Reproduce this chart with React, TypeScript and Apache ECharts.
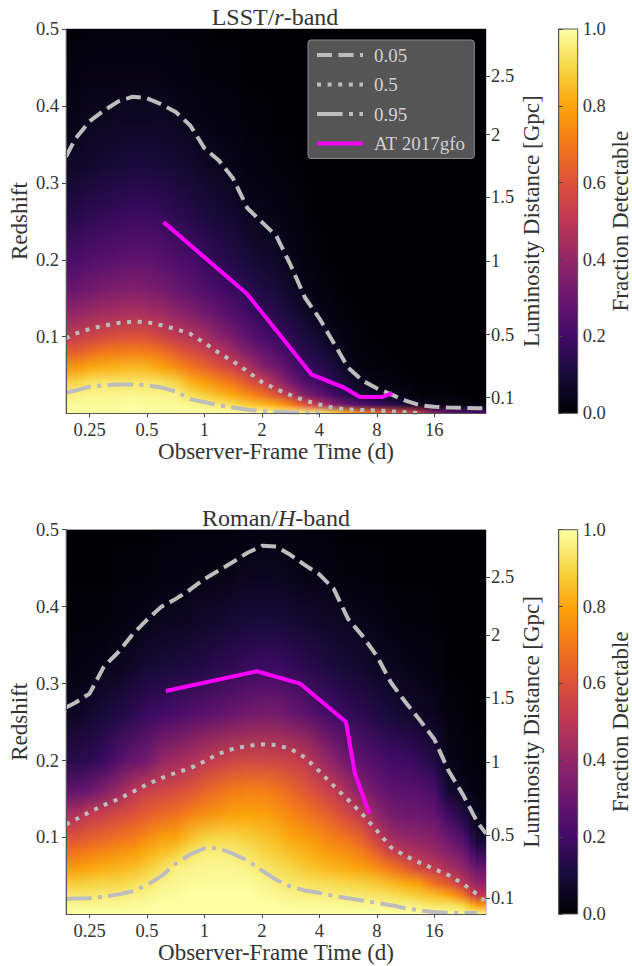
import React, { useEffect, useRef } from "react";
import * as echarts from "echarts";

const FONT = "Liberation Serif";
const TIME_TICKS = [0.25, 0.5, 1, 2, 4, 8, 16];
const Z_TICKS = [0.1, 0.2, 0.3, 0.4, 0.5];
const DIST_TICK_Z = [0.0208, 0.1028, 0.198, 0.2817, 0.3628, 0.4385];
const DIST_TICK_LABELS = ["0.1", "0.5", "1", "1.5", "2", "2.5"];
const CBAR_TICKS = [0, 0.2, 0.4, 0.6, 0.8, 1];
const INFERNO = ["#000004", "#160b39", "#420a68", "#6a176e", "#932667", "#bc3754", "#dd513a", "#f37819", "#fca50a", "#f6d746", "#fcffa4"];

// heat map columns (days) and rows (redshift)
const COL_T = [0.21, 0.25, 0.297, 0.354, 0.42, 0.5, 0.595, 0.707, 0.84, 1, 1.19, 1.41, 1.68, 2, 2.38, 2.83, 3.36, 4, 4.76, 5.66, 6.73, 8, 9.51, 11.3, 13.5, 16, 19, 22.6, 26.9];
const ROW_Z = [0.5, 0.44, 0.38, 0.32, 0.26, 0.2, 0.16, 0.13, 0.1, 0.08, 0.06, 0.04, 0.025, 0.012, 0.001];

// percent detectable; one list per column, top row first
const LSST_GRID = [
  [1, 2, 4, 7, 13, 22, 30, 40, 52, 63, 77, 90, 96, 99, 100],
  [1, 3, 5, 8, 15, 24, 32, 42, 55, 67, 81, 93, 97, 99, 100],
  [1, 3, 5, 9, 16, 25, 34, 44, 57, 70, 82, 94, 97, 99, 100],
  [1, 3, 6, 10, 17, 26, 35, 45, 59, 71, 83, 94, 97, 99, 100],
  [1, 3, 6, 11, 18, 27, 36, 46, 60, 72, 84, 94, 98, 100, 100],
  [1, 3, 6, 11, 18, 27, 35, 45, 59, 71, 83, 94, 97, 99, 100],
  [1, 3, 6, 10, 17, 25, 33, 43, 55, 68, 80, 93, 97, 99, 100],
  [1, 2, 5, 9, 15, 23, 30, 39, 52, 63, 75, 90, 97, 99, 100],
  [1, 2, 4, 8, 13, 21, 27, 36, 48, 59, 70, 83, 92, 98, 100],
  [1, 1, 3, 6, 11, 18, 24, 32, 45, 54, 65, 79, 88, 96, 100],
  [0, 1, 2, 5, 9, 15, 21, 28, 38, 49, 60, 74, 84, 94, 100],
  [0, 1, 2, 4, 8, 13, 18, 24, 33, 43, 55, 69, 80, 91, 100],
  [0, 0, 1, 2, 5, 10, 15, 20, 27, 35, 47, 62, 74, 87, 99],
  [0, 0, 1, 2, 4, 8, 12, 16, 22, 29, 37, 55, 68, 84, 99],
  [0, 0, 0, 1, 3, 7, 10, 14, 19, 24, 31, 44, 60, 80, 98],
  [0, 0, 0, 1, 2, 4, 7, 10, 15, 19, 24, 33, 48, 72, 97],
  [0, 0, 0, 0, 1, 2, 4, 7, 11, 14, 18, 24, 35, 60, 96],
  [0, 0, 0, 0, 0, 1, 2, 4, 8, 11, 15, 20, 27, 50, 95],
  [0, 0, 0, 0, 0, 0, 1, 2, 4, 7, 10, 15, 20, 36, 90],
  [0, 0, 0, 0, 0, 0, 0, 1, 2, 3, 5, 9, 14, 28, 80],
  [0, 0, 0, 0, 0, 0, 0, 0, 1, 1, 2, 5, 9, 22, 72],
  [0, 0, 0, 0, 0, 0, 0, 0, 0, 1, 1, 3, 7, 18, 68],
  [0, 0, 0, 0, 0, 0, 0, 0, 0, 0, 1, 2, 5, 14, 62],
  [0, 0, 0, 0, 0, 0, 0, 0, 0, 0, 0, 1, 3, 10, 58],
  [0, 0, 0, 0, 0, 0, 0, 0, 0, 0, 0, 0, 1, 5, 52],
  [0, 0, 0, 0, 0, 0, 0, 0, 0, 0, 0, 0, 1, 4, 35],
  [0, 0, 0, 0, 0, 0, 0, 0, 0, 0, 0, 0, 1, 3, 28],
  [0, 0, 0, 0, 0, 0, 0, 0, 0, 0, 0, 0, 0, 3, 24],
  [0, 0, 0, 0, 0, 0, 0, 0, 0, 0, 0, 0, 0, 2, 20],
];
const ROMAN_GRID = [
  [0, 0, 1, 2, 6, 14, 28, 46, 60, 69, 78, 88, 94, 98, 100],
  [0, 0, 1, 3, 8, 15, 30, 52, 63, 72, 80, 89, 94, 98, 100],
  [0, 0, 1, 4, 10, 18, 36, 54, 65, 74, 82, 90, 95, 98, 100],
  [0, 1, 2, 5, 12, 24, 42, 57, 68, 76, 83, 90, 95, 98, 100],
  [0, 1, 3, 7, 15, 29, 49, 60, 70, 78, 85, 92, 96, 99, 100],
  [0, 1, 4, 9, 18, 32, 54, 63, 74, 82, 88, 94, 97, 99, 100],
  [1, 2, 5, 10, 20, 40, 56, 66, 78, 85, 92, 97, 99, 100, 100],
  [1, 2, 5, 11, 22, 43, 58, 68, 80, 88, 96, 98, 99, 100, 100],
  [1, 3, 6, 12, 24, 46, 61, 72, 85, 93, 97, 99, 100, 100, 100],
  [1, 3, 7, 13, 26, 50, 65, 75, 89, 96, 98, 99, 100, 100, 100],
  [1, 3, 8, 15, 28, 53, 68, 77, 90, 96, 98, 99, 100, 100, 100],
  [1, 4, 9, 16, 30, 55, 71, 79, 90, 95, 98, 99, 100, 100, 100],
  [2, 5, 10, 18, 32, 56, 72, 80, 88, 93, 97, 99, 100, 100, 100],
  [2, 5, 10, 19, 33, 56, 72, 79, 86, 90, 94, 98, 99, 100, 100],
  [2, 5, 10, 19, 33, 55, 70, 77, 84, 88, 92, 96, 98, 100, 100],
  [2, 4, 9, 17, 30, 54, 66, 73, 80, 85, 90, 94, 97, 99, 100],
  [1, 3, 8, 15, 27, 51, 62, 70, 78, 83, 87, 93, 96, 99, 100],
  [1, 3, 7, 13, 23, 44, 57, 66, 75, 80, 85, 92, 96, 99, 100],
  [1, 2, 6, 11, 20, 37, 52, 62, 71, 77, 83, 91, 95, 99, 100],
  [0, 1, 5, 9, 17, 31, 44, 56, 68, 75, 81, 90, 95, 98, 100],
  [0, 1, 4, 8, 15, 26, 36, 50, 63, 71, 79, 89, 94, 98, 100],
  [0, 1, 3, 6, 12, 23, 31, 39, 53, 64, 75, 87, 93, 98, 100],
  [0, 0, 2, 5, 10, 20, 27, 33, 43, 55, 70, 84, 92, 97, 100],
  [0, 0, 1, 4, 8, 19, 26, 31, 40, 49, 64, 81, 90, 97, 100],
  [0, 0, 1, 3, 6, 16, 25, 30, 38, 45, 56, 78, 87, 95, 100],
  [0, 0, 1, 2, 5, 12, 22, 28, 36, 42, 51, 68, 85, 93, 100],
  [0, 0, 0, 0, 2, 4, 8, 19, 30, 37, 46, 62, 80, 93, 99],
  [0, 0, 0, 0, 1, 2, 5, 12, 23, 31, 40, 50, 70, 90, 98],
  [0, 0, 0, 0, 0, 1, 2, 4, 8, 17, 29, 40, 50, 78, 96],
];

// contours: redshift read at these times
const CONTOUR_T = [0.188, 0.21, 0.25, 0.297, 0.354, 0.42, 0.5, 0.595, 0.707, 0.84, 1, 1.19, 1.41, 1.68, 2, 2.38, 2.83, 3.36, 4, 4.76, 5.66, 6.73, 8, 9.51, 11.3, 13.5, 16, 19, 22.6, 26.9, 29.9];
const LSST_05 = [0.334, 0.357, 0.38, 0.394, 0.406, 0.412, 0.41, 0.402, 0.392, 0.375, 0.345, 0.329, 0.306, 0.267, 0.249, 0.231, 0.193, 0.151, 0.124, 0.092, 0.06, 0.043, 0.033, 0.025, 0.017, 0.011, 0.009, 0.008, 0.0075, 0.007, 0.007];
const LSST_50 = [0.098, 0.104, 0.11, 0.1145, 0.118, 0.1196, 0.119, 0.115, 0.11, 0.104, 0.092, 0.079, 0.068, 0.055, 0.041, 0.032, 0.024, 0.017, 0.012, 0.0075, 0.0055, 0.0048, 0.004, 0.003, 0.002, 0.0008];
const LSST_95 = [0.027, 0.03, 0.035, 0.037, 0.038, 0.038, 0.037, 0.034, 0.029, 0.019, 0.015, 0.011, 0.008, 0.005, 0.0035, 0.0025, 0.0017, 0.0012, 0.0008];
const ROMAN_05 = [0.269, 0.275, 0.287, 0.322, 0.341, 0.364, 0.383, 0.4, 0.41, 0.422, 0.436, 0.447, 0.458, 0.47, 0.479, 0.478, 0.467, 0.454, 0.442, 0.423, 0.384, 0.362, 0.336, 0.301, 0.276, 0.252, 0.228, 0.187, 0.156, 0.12, 0.105];
const ROMAN_50 = [0.117, 0.123, 0.133, 0.142, 0.15, 0.159, 0.169, 0.177, 0.184, 0.19, 0.199, 0.209, 0.215, 0.219, 0.221, 0.22, 0.215, 0.204, 0.186, 0.167, 0.149, 0.13, 0.109, 0.087, 0.076, 0.067, 0.059, 0.051, 0.04, 0.026, 0.016];
const ROMAN_95 = [0.02, 0.0205, 0.021, 0.023, 0.026, 0.03, 0.038, 0.05, 0.066, 0.078, 0.086, 0.086, 0.079, 0.07, 0.057, 0.045, 0.036, 0.031, 0.028, 0.024, 0.021, 0.018, 0.015, 0.012, 0.008, 0.005, 0.003, 0.002, 0.0018, 0.0017];

const LSST_KN_T = [0.61, 1.667, 3.65, 5.32, 6.53, 8.49, 9.65];
const LSST_KN_Z = [0.249, 0.156, 0.0507, 0.0346, 0.0216, 0.0216, 0.0268];
const ROMAN_KN_T = [0.628, 1.88, 3.17, 5.52, 6.15, 7.31];
const ROMAN_KN_Z = [0.2904, 0.316, 0.3, 0.25, 0.183, 0.131];

const X_MIN = 0.188;
const X_MAX = 29.9;
const Z_MIN = 0.0005;
const Z_MAX = 0.5;
const STRIPS = 5;

const hex = (s: string) => [1, 3, 5].map((i) => parseInt(s.slice(i, i + 2), 16));
function inferno(f: number) {
  const p = Math.min(Math.max(f, 0), 1) * 10;
  const i = Math.min(Math.floor(p), 9);
  const a = hex(INFERNO[i]);
  const b = hex(INFERNO[i + 1]);
  const c = a.map((v, k) => Math.round(v + (b[k] - v) * (p - i)));
  return `rgb(${c[0]},${c[1]},${c[2]})`;
}
const zip = (xs: number[], ys: number[]) => ys.map((y, i) => [xs[i], y]);

function heatSeries(grid: number[][], xi: number, yi: number) {
  // Pixel shading only, as in an interpolated image: each read column is painted
  // as strips whose colour eases toward its neighbours. No data values are added.
  const shade = (lt: number, r: number) => {
    const L = COL_T.map(Math.log);
    if (lt <= L[0]) return grid[0][r];
    if (lt >= L[L.length - 1]) return grid[L.length - 1][r];
    let i = 0;
    while (lt > L[i + 1]) i++;
    const w = (lt - L[i]) / (L[i + 1] - L[i]);
    return grid[i][r] * (1 - w) + grid[i + 1][r] * w;
  };
  return {
    type: "custom",
    xAxisIndex: xi,
    yAxisIndex: yi,
    z: 2,
    silent: true,
    clip: true,
    encode: { x: 0, y: 1 },
    data: COL_T.map((t, i) => [t, 0.25, i]),
    renderItem: (_p: any, api: any) => {
      const i = api.value(2);
      const tl = i === 0 ? X_MIN : Math.sqrt(COL_T[i - 1] * COL_T[i]);
      const tr = i === COL_T.length - 1 ? X_MAX : Math.sqrt(COL_T[i] * COL_T[i + 1]);
      const children: any[] = [];
      const n = i === 0 || i === COL_T.length - 1 ? 3 : STRIPS;
      for (let s = 0; s < n; s++) {
        const l0 = Math.log(tl) + ((Math.log(tr) - Math.log(tl)) * s) / n;
        const l1 = Math.log(tl) + ((Math.log(tr) - Math.log(tl)) * (s + 1)) / n;
        const a = api.coord([Math.exp(l0), Z_MAX]);
        const b = api.coord([Math.exp(l1), Z_MIN]);
        const mid = (l0 + l1) / 2;
        const stops = ROW_Z.map((z, r) => ({
          offset: (Z_MAX - z) / (Z_MAX - Z_MIN),
          color: inferno(shade(mid, r) / 100),
        }));
        children.push({
          type: "rect",
          shape: { x: a[0], y: a[1], width: b[0] - a[0] + 1, height: b[1] - a[1] },
          style: { fill: new echarts.graphic.LinearGradient(0, 0, 0, 1, stops) },
        });
      }
      return { type: "group", children };
    },
  };
}

const SILVER = "#bdbdbd";
function lineSeries(name: string, data: number[][], xi: number, yi: number, type: any, color = SILVER) {
  return {
    type: "line",
    name,
    xAxisIndex: xi,
    yAxisIndex: yi,
    data,
    z: 3,
    showSymbol: false,
    symbol: "none",
    silent: true,
    lineStyle: { color, width: 4, type, cap: "butt", join: "round" },
    itemStyle: { color },
  };
}
const DASH = [15, 6.5];
const DOT = [4, 6.6];
const DASHDOT = [25.6, 6.4, 4, 6.4];

function cbarSeries(xi: number, yi: number) {
  return {
    type: "custom",
    xAxisIndex: xi,
    yAxisIndex: yi,
    silent: true,
    z: 2,
    encode: { x: 0, y: 1 },
    data: [[0, 0]],
    renderItem: (_p: any, api: any) => {
      const a = api.coord([0, 1]);
      const b = api.coord([1, 0]);
      return {
        type: "rect",
        shape: { x: a[0], y: a[1], width: b[0] - a[0], height: b[1] - a[1] },
        style: {
          stroke: "#555",
          lineWidth: 1,
          fill: new echarts.graphic.LinearGradient(
            0, 0, 0, 1,
            INFERNO.map((c, i) => ({ offset: 1 - i / 10, color: c })).reverse()
          ),
        },
      };
    },
  };
}

const axisLine = { show: true, lineStyle: { color: "#555", width: 1 } };
const tick = { show: true, length: 4, lineStyle: { color: "#444", width: 1 } };
const lab = { color: "#333", fontFamily: FONT, fontSize: 18.5 };
const nameStyle = { color: "#333", fontFamily: FONT, fontSize: 23 };

export default function App() {
  const ref = useRef<HTMLDivElement>(null);
  useEffect(() => {
    const chart = echarts.init(ref.current!, undefined, { renderer: "svg" });
    const tops = [29, 529.7];
    const H = 384.3;
    const grids: any[] = [];
    const xAxes: any[] = [];
    const yAxes: any[] = [];
    tops.forEach((top, p) => {
      grids.push({ left: 66, top, width: 420, height: H, outerBoundsMode: "none", containLabel: false, show: true, borderColor: "#999", borderWidth: 1 });
      xAxes.push({
        type: "log", logBase: 2, gridIndex: p * 2, min: X_MIN, max: X_MAX, z: 5,
        name: "Observer-Frame Time (d)", nameLocation: "middle", nameGap: 27, nameMoveOverlap: false, nameTextStyle: nameStyle,
        axisLine, axisTick: { ...tick, customValues: TIME_TICKS }, minorTick: { show: false }, splitLine: { show: false },
        axisLabel: { ...lab, margin: 7, customValues: TIME_TICKS, formatter: (v: number) => String(+v.toFixed(2)), showMinLabel: true, showMaxLabel: true },
      });
      yAxes.push({
        type: "value", gridIndex: p * 2, min: Z_MIN, max: Z_MAX, position: "left", z: 5,
        name: "Redshift", nameLocation: "middle", nameGap: 35, nameMoveOverlap: false, nameTextStyle: nameStyle,
        axisLine, axisTick: { ...tick, customValues: Z_TICKS }, splitLine: { show: false },
        axisLabel: { ...lab, margin: 7, customValues: Z_TICKS, formatter: (v: number) => v.toFixed(1) },
      });
      yAxes.push({
        type: "value", gridIndex: p * 2, min: Z_MIN, max: Z_MAX, position: "right", z: 5,
        name: "Luminosity Distance [Gpc]", nameLocation: "middle", nameGap: 34, nameMoveOverlap: false, nameRotate: 90, nameTextStyle: nameStyle,
        axisLine: { show: false }, axisTick: { ...tick, customValues: DIST_TICK_Z }, splitLine: { show: false },
        axisLabel: {
          ...lab, margin: 5, customValues: DIST_TICK_Z,
          formatter: (v: number) => DIST_TICK_LABELS[DIST_TICK_Z.findIndex((d) => Math.abs(d - v) < 1e-6)],
        },
      });
      grids.push({ left: 558.7, top, width: 19, height: H, outerBoundsMode: "none", show: false });
      xAxes.push({ type: "value", gridIndex: p * 2 + 1, min: 0, max: 1, show: false });
      yAxes.push({
        type: "value", gridIndex: p * 2 + 1, min: 0, max: 1, interval: 0.2, position: "right", z: 5,
        name: "Fraction Detectable", nameLocation: "middle", nameGap: 31, nameMoveOverlap: false, nameRotate: 90, nameTextStyle: nameStyle,
        axisLine, axisTick: tick, splitLine: { show: false },
        axisLabel: { ...lab, margin: 5, customValues: CBAR_TICKS, formatter: (v: number) => v.toFixed(1) },
      });
    });
    const rich = {
      a: { fontFamily: FONT, fontSize: 24, color: "#333", fontWeight: "normal" },
      i: { fontFamily: FONT, fontSize: 24, color: "#333", fontStyle: "italic", fontWeight: "normal" },
    };
    chart.setOption({
      animation: false,
      backgroundColor: "#fff",
      title: [
        { text: "{a|LSST/}{i|r}{a|-band}", left: 270, top: 0, textAlign: "center", textStyle: { rich, fontWeight: "normal" } },
        { text: "{a|Roman/}{i|H}{a|-band}", left: 271, top: 501, textAlign: "center", textStyle: { rich, fontWeight: "normal" } },
      ],
      legend: {
        left: 308, top: 40, orient: "vertical", padding: [5, 9, 5, 7], itemWidth: 46, itemHeight: 14, itemGap: 9.5, z: 10,
        backgroundColor: "#555555", borderColor: "#8a8a8a", borderWidth: 1, borderRadius: 3,
        itemStyle: { opacity: 0, color: "transparent", borderWidth: 0 },
        lineStyle: { width: 4 },
        textStyle: { color: "#d2d2d2", fontFamily: FONT, fontSize: 19, lineHeight: 20, padding: [0, 0, 0, 6] },
        data: ["0.05", "0.5", "0.95", "AT 2017gfo"],
        selectedMode: false,
      },
      grid: grids,
      xAxis: xAxes,
      yAxis: yAxes,
      series: [
        heatSeries(LSST_GRID, 0, 0),
        lineSeries("0.05", zip(CONTOUR_T, LSST_05), 0, 0, DASH),
        lineSeries("0.5", zip(CONTOUR_T, LSST_50), 0, 0, DOT),
        lineSeries("0.95", zip(CONTOUR_T, LSST_95), 0, 0, DASHDOT),
        lineSeries("AT 2017gfo", zip(LSST_KN_T, LSST_KN_Z), 0, 0, "solid", "#ff00ff"),
        cbarSeries(1, 2),
        heatSeries(ROMAN_GRID, 2, 3),
        lineSeries("0.05", zip(CONTOUR_T, ROMAN_05), 2, 3, DASH),
        lineSeries("0.5", zip(CONTOUR_T, ROMAN_50), 2, 3, DOT),
        lineSeries("0.95", zip(CONTOUR_T, ROMAN_95), 2, 3, DASHDOT),
        lineSeries("AT 2017gfo", zip(ROMAN_KN_T, ROMAN_KN_Z), 2, 3, "solid", "#ff00ff"),
        cbarSeries(3, 5),
      ],
    });
    return () => chart.dispose();
  }, []);
  return <div ref={ref} style={{ position: "absolute", left: 0, top: 0, width: 632, height: 966 }} />;
}
